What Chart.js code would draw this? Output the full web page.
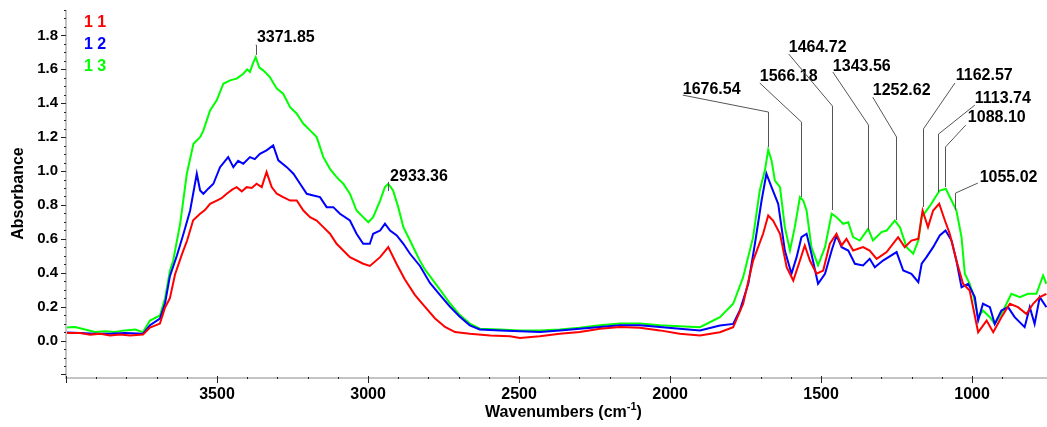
<!DOCTYPE html>
<html>
<head>
<meta charset="utf-8">
<script src="https://cdn.jsdelivr.net/npm/chart.js@4/dist/chart.umd.min.js"></script>
<style>
  html, body { margin: 0; padding: 0; background: #fff; }
  #wrap { width: 1047px; height: 427px; position: relative; }
</style>
</head>
<body>
<div id="wrap"><canvas id="spectrum"></canvas></div>
<script>
// FTIR spectra, three samples

const legendNames = ['1 1', '1 2', '1 3'];

// sample 1 1 (red)
const redWn = [4000, 3953, 3920, 3887, 3854, 3821, 3788, 3745, 3722, 3689, 3672, 3656, 3639, 3616, 3599, 3579,
  3556, 3540, 3523, 3501, 3485, 3468, 3450, 3435, 3418, 3402, 3385, 3369, 3352, 3336, 3319, 3302, 3281, 3258, 3236, 3214, 3192, 3170, 3148,
  3126, 3104, 3082, 3060, 3016, 2994, 2960, 2933, 2905, 2878, 2845, 2812, 2778, 2745, 2712, 2663, 2596, 2530,
  2497, 2431, 2365, 2299, 2232, 2166, 2100, 2034, 1968, 1901, 1835, 1791, 1758, 1725, 1692, 1675, 1659, 1636,
  1614, 1592, 1570, 1554, 1537, 1515, 1493, 1471, 1449, 1432, 1416, 1394, 1361, 1339, 1316, 1283, 1245, 1223,
  1201, 1178, 1164, 1146, 1129, 1109, 1090, 1074, 1052, 1030, 1008, 980, 952, 930, 903, 875, 848, 820, 798,
  776, 754];
const redAbs = [0.045, 0.045, 0.035, 0.04, 0.03, 0.035, 0.03, 0.035, 0.077, 0.1, 0.195, 0.25, 0.39, 0.51, 0.59, 0.71,
  0.748, 0.77, 0.807, 0.826, 0.84, 0.866, 0.89, 0.905, 0.88, 0.905, 0.9, 0.925, 0.905, 0.994, 0.905, 0.866, 0.846, 0.826, 0.826, 0.767, 0.728, 0.708, 0.669,
  0.63, 0.571, 0.531, 0.492, 0.453, 0.44, 0.492, 0.551, 0.45, 0.36, 0.27, 0.2, 0.13, 0.08, 0.05, 0.04, 0.03, 0.025,
  0.015, 0.025, 0.04, 0.05, 0.07, 0.08, 0.075, 0.06, 0.04, 0.03, 0.049, 0.079, 0.217, 0.472, 0.63, 0.738, 0.708, 0.63,
  0.433, 0.354, 0.472, 0.561, 0.472, 0.394, 0.413, 0.571, 0.63, 0.561, 0.6, 0.531, 0.551, 0.531, 0.482, 0.522, 0.61, 0.551,
  0.59, 0.6, 0.767, 0.669, 0.767, 0.807, 0.708, 0.63, 0.472, 0.335, 0.295, 0.049, 0.118, 0.049, 0.138, 0.217, 0.197, 0.157, 0.217,
  0.256, 0.276];

// sample 1 2 (blue)
const blueWn = [4000, 3953, 3904, 3854, 3805, 3745, 3722, 3689, 3672, 3656, 3633, 3611, 3589, 3567, 3556, 3545,
  3529, 3512, 3490, 3463, 3446, 3430, 3413, 3391, 3375, 3358, 3336, 3314, 3297, 3269, 3247, 3225, 3203, 3181, 3159, 3137,
  3115, 3093, 3060, 3038, 3016, 2994, 2983, 2960, 2944, 2927, 2905, 2883, 2861, 2828, 2795, 2762, 2729, 2696,
  2663, 2630, 2563, 2497, 2431, 2365, 2299, 2232, 2166, 2100, 2034, 1968, 1901, 1835, 1791, 1769, 1741, 1719,
  1697, 1681, 1664, 1642, 1620, 1598, 1581, 1565, 1548, 1532, 1510, 1487, 1465, 1449, 1432, 1410, 1388, 1361,
  1339, 1322, 1295, 1250, 1228, 1201, 1178, 1167, 1151, 1129, 1107, 1088, 1068, 1052, 1035, 1013, 991, 980,
  964, 941, 925, 903, 881, 859, 826, 809, 793, 776, 754];
const blueAbs = [0.047, 0.045, 0.04, 0.04, 0.045, 0.04, 0.09, 0.13, 0.22, 0.38, 0.5, 0.63, 0.767, 0.984, 0.885, 0.866,
  0.896, 0.925, 1.023, 1.082, 1.023, 1.06, 1.043, 1.082, 1.07, 1.102, 1.122, 1.151, 1.063, 1.023, 0.984, 0.925, 0.866, 0.856, 0.846, 0.787,
  0.787, 0.748, 0.708, 0.63, 0.571, 0.571, 0.63, 0.649, 0.689, 0.649, 0.62, 0.571, 0.512, 0.44, 0.34, 0.27, 0.2, 0.14,
  0.09, 0.065, 0.06, 0.055, 0.05, 0.06, 0.07, 0.08, 0.09, 0.09, 0.08, 0.07, 0.059, 0.089, 0.098, 0.177, 0.335, 0.571,
  0.826, 0.984, 0.905, 0.807, 0.531, 0.394, 0.492, 0.61, 0.63, 0.512, 0.335, 0.394, 0.531, 0.62, 0.551, 0.531, 0.453, 0.443,
  0.482, 0.433, 0.472, 0.522, 0.413, 0.394, 0.344, 0.453, 0.492, 0.551, 0.62, 0.649, 0.59, 0.472, 0.315, 0.335, 0.256, 0.118,
  0.217, 0.197, 0.098, 0.177, 0.197, 0.138, 0.079, 0.197, 0.098, 0.256, 0.197];

// sample 1 3 (green)
const greenWn = [4000, 3970, 3937, 3904, 3871, 3838, 3805, 3771, 3745, 3722, 3689, 3672, 3656, 3645, 3622, 3600,
  3578, 3556, 3545, 3523, 3501, 3479, 3457, 3435, 3413, 3400, 3391, 3380, 3372, 3360, 3347, 3325, 3302, 3281, 3258, 3236, 3214,
  3192, 3170, 3148, 3126, 3104, 3082, 3060, 3038, 3016, 2999, 2983, 2960, 2944, 2933, 2917, 2900, 2883, 2861,
  2845, 2828, 2812, 2795, 2762, 2729, 2696, 2663, 2630, 2563, 2497, 2431, 2365, 2299, 2232, 2166, 2100, 2034,
  1968, 1901, 1835, 1791, 1758, 1725, 1703, 1686, 1675, 1664, 1653, 1636, 1620, 1603, 1587, 1570, 1559, 1548,
  1532, 1510, 1487, 1465, 1449, 1427, 1410, 1394, 1372, 1344, 1328, 1300, 1283, 1256, 1239, 1217, 1195, 1178,
  1167, 1151, 1135, 1118, 1107, 1087, 1068, 1052, 1035, 1024, 1008, 997, 980, 964, 941, 925, 897, 870, 842,
  815, 787, 765, 754];
const greenAbs = [0.077, 0.08, 0.065, 0.05, 0.055, 0.05, 0.06, 0.065, 0.05, 0.118, 0.148, 0.25, 0.41, 0.472, 0.689, 0.984,
  1.161, 1.2, 1.24, 1.358, 1.417, 1.515, 1.535, 1.545, 1.574, 1.6, 1.585, 1.64, 1.672, 1.61, 1.594, 1.554, 1.486, 1.456, 1.377, 1.338, 1.279,
  1.24, 1.2, 1.082, 1.013, 0.964, 0.925, 0.866, 0.767, 0.728, 0.698, 0.728, 0.826, 0.905, 0.925, 0.885, 0.787, 0.669, 0.59,
  0.531, 0.47, 0.42, 0.38, 0.3, 0.22, 0.15, 0.1, 0.07, 0.065, 0.06, 0.06, 0.065, 0.075, 0.09, 0.1, 0.1, 0.09,
  0.085, 0.079, 0.138, 0.217, 0.374, 0.61, 0.885, 1.004, 1.125, 1.063, 0.944, 0.905, 0.669, 0.531, 0.669, 0.846, 0.826, 0.767,
  0.551, 0.443, 0.551, 0.748, 0.728, 0.689, 0.698, 0.61, 0.59, 0.659, 0.59, 0.64, 0.649, 0.708, 0.669, 0.551, 0.512, 0.59,
  0.728, 0.767, 0.807, 0.856, 0.885, 0.895, 0.826, 0.767, 0.61, 0.394, 0.335, 0.276, 0.138, 0.177, 0.138, 0.098, 0.177, 0.276, 0.256,
  0.276, 0.276, 0.384, 0.335];

// peak labels
const peakLabels = ['3371.85', '2933.36', '1676.54', '1566.18', '1464.72', '1343.56', '1252.62', '1162.57', '1113.74', '1088.10', '1055.02'];

// where each label sits and how its leader runs (wavenumber / absorbance units)
const labelLayout = [
  { textWn: 3368, textAbs: 1.79,  startWn: 3372, startAbs: 1.743, kneeAbs: 1.743, tipAbs: 1.685 },
  { textWn: 2927, textAbs: 0.97,  startWn: 2933, startAbs: 0.935, kneeAbs: 0.935, tipAbs: 0.882 },
  { textWn: 1958, textAbs: 1.478, startWn: 1958, startAbs: 1.448, kneeAbs: 1.348, tipAbs: 1.142 },
  { textWn: 1703, textAbs: 1.555, startWn: 1703, startAbs: 1.519, kneeAbs: 1.289, tipAbs: 0.847 },
  { textWn: 1607, textAbs: 1.726, startWn: 1607, startAbs: 1.69,  kneeAbs: 1.383, tipAbs: 0.77 },
  { textWn: 1461, textAbs: 1.614, startWn: 1461, startAbs: 1.584, kneeAbs: 1.271, tipAbs: 0.652 },
  { textWn: 1329, textAbs: 1.472, startWn: 1329, startAbs: 1.436, kneeAbs: 1.201, tipAbs: 0.711 },
  { textWn: 1054, textAbs: 1.561, startWn: 1057, startAbs: 1.519, kneeAbs: 1.249, tipAbs: 0.788 },
  { textWn: 991,  textAbs: 1.425, startWn: 991,  startAbs: 1.389, kneeAbs: 1.218, tipAbs: 0.876 },
  { textWn: 1014, textAbs: 1.313, startWn: 1021, startAbs: 1.271, kneeAbs: 1.142, tipAbs: 0.906 },
  { textWn: 975,  textAbs: 0.959, startWn: 981,  startAbs: 0.929, kneeAbs: 0.870, tipAbs: 0.77 },
];

const FONT = '"Liberation Sans", Arial, sans-serif';
const colors = ['#ff0000', '#0000ff', '#00ff00'];

function toPoints(wn, abs) {
  return wn.map((w, i) => ({ x: w, y: abs[i] }));
}

// axes, ticks, legend, labels - drawn on top of the chart
const decorPlugin = {
  id: 'decor',
  afterDatasetsDraw(chart) {
    const ctx = chart.ctx;
    const xs = chart.scales.x;
    const ys = chart.scales.y;
    const area = chart.chartArea;
    ctx.save();

    // leaders + peak labels
    ctx.strokeStyle = '#555';
    ctx.lineWidth = 1;
    ctx.font = 'bold 16px ' + FONT;
    ctx.fillStyle = '#000';
    ctx.textBaseline = 'middle';
    ctx.textAlign = 'left';
    peakLabels.forEach((txt, i) => {
      const l = labelLayout[i];
      const px = Math.round(xs.getPixelForValue(parseFloat(txt))) + 0.5;
      ctx.beginPath();
      ctx.moveTo(xs.getPixelForValue(l.startWn), ys.getPixelForValue(l.startAbs));
      ctx.lineTo(px, ys.getPixelForValue(l.kneeAbs));
      ctx.lineTo(px, ys.getPixelForValue(l.tipAbs));
      ctx.stroke();
      ctx.fillText(txt, xs.getPixelForValue(l.textWn), ys.getPixelForValue(l.textAbs));
    });

    // legend
    legendNames.forEach((name, i) => {
      ctx.fillStyle = colors[i];
      ctx.fillText(name, area.left + 18, area.top + 13 + i * 22);
    });

    // axis lines (grey)
    ctx.fillStyle = '#c4c4c4';
    ctx.fillRect(area.left - 1, area.top, 2, area.bottom - area.top + 1);
    ctx.fillRect(area.left - 1, area.bottom, area.right - area.left + 1, 2);

    // y ticks
    ctx.fillStyle = '#222';
    ys.ticks.forEach(t => {
      const y = Math.round(ys.getPixelForValue(t.value));
      const major = Math.round(t.value * 100) % 20 === 0;
      if (major) ctx.fillRect(area.left - 5, y, 5, 1);
      else ctx.fillRect(area.left - 2, y, 2, 1);
    });
    // x ticks
    xs.ticks.forEach(t => {
      const x = Math.round(xs.getPixelForValue(t.value));
      const major = t.value % 500 === 0;
      if (major) ctx.fillRect(x, area.bottom - 1, 1, 7);
      else ctx.fillRect(x, area.bottom, 1, 2);
    });

    // x title with superscript
    const cx = (area.left + area.right) / 2 + 7;
    const ty = 413;
    ctx.fillStyle = '#000';
    ctx.textBaseline = 'middle';
    const main = 'Wavenumbers (cm';
    ctx.font = 'bold 16px ' + FONT;
    const w1 = ctx.measureText(main).width;
    ctx.font = 'bold 11px ' + FONT;
    const w2 = ctx.measureText('-1').width;
    ctx.font = 'bold 16px ' + FONT;
    const w3 = ctx.measureText(')').width;
    let x0 = cx - (w1 + w2 + w3) / 2;
    ctx.fillText(main, x0, ty);
    ctx.font = 'bold 11px ' + FONT;
    ctx.fillText('-1', x0 + w1, ty - 6);
    ctx.font = 'bold 16px ' + FONT;
    ctx.fillText(')', x0 + w1 + w2, ty);

    ctx.restore();
  }
};

const chart = new Chart(document.getElementById('spectrum'), {
  type: 'line',
  data: {
    datasets: [
      { label: legendNames[0], data: toPoints(redWn, redAbs), borderColor: colors[0], order: 0 },
      { label: legendNames[1], data: toPoints(blueWn, blueAbs), borderColor: colors[1], order: 1 },
      { label: legendNames[2], data: toPoints(greenWn, greenAbs), borderColor: colors[2], order: 2 },
    ],
  },
  options: {
    responsive: true,
    maintainAspectRatio: false,
    animation: false,
    devicePixelRatio: 1,
    layout: { padding: { top: 10, right: 0, bottom: 0, left: 0 } },
    elements: {
      point: { radius: 0 },
      line: { borderWidth: 2, tension: 0 },
    },
    plugins: {
      legend: { display: false },
      tooltip: { enabled: false },
    },
    scales: {
      x: {
        type: 'linear',
        reverse: true,
        min: 752,
        max: 4000,
        grid: { display: false, drawTicks: false },
        border: { display: false },
        afterFit(scale) {
          scale.height = 50;
          scale.paddingLeft = 0;
          scale.paddingRight = 0;
        },
        ticks: {
          stepSize: 100,
          autoSkip: false,
          maxRotation: 0,
          padding: 8,
          color: '#000',
          font: { family: FONT, size: 16, weight: 'bold' },
          callback: v => (v % 500 === 0 && v < 4000 ? String(v) : ''),
        },
      },
      y: {
        min: -0.215,
        max: 1.95,
        grid: { display: false, drawTicks: false },
        border: { display: false },
        afterFit(scale) {
          scale.width = 66;
          scale.paddingTop = 0;
          scale.paddingBottom = 0;
        },
        title: {
          display: true,
          text: 'Absorbance',
          color: '#000',
          font: { family: FONT, size: 16, weight: 'bold' },
          padding: { top: 9, bottom: 0 },
        },
        ticks: {
          stepSize: 0.05,
          includeBounds: false,
          autoSkip: false,
          padding: 8,
          color: '#000',
          font: { family: FONT, size: 15, weight: 'bold' },
          callback: v => (Math.round(v * 100) % 20 === 0 && v > -0.1 ? v.toFixed(1) : ''),
        },
      },
    },
  },
  plugins: [decorPlugin],
});
</script>
</body>
</html>
